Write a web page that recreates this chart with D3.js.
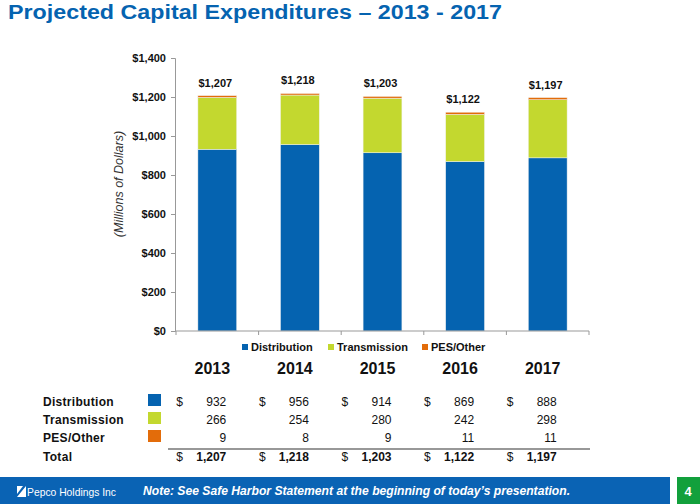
<!DOCTYPE html>
<html><head><meta charset="utf-8">
<script src="https://cdn.jsdelivr.net/npm/d3@7"></script>
<style>body{margin:0;background:#fff}svg{display:block;font-family:"Liberation Sans",Arial,sans-serif}</style>
</head><body><svg id="c" width="700" height="504"></svg>
<script>
const years = ["2013","2014","2015","2016","2017"];
const seriesNames = ["Distribution","Transmission","PES/Other"];
const distribution = [932,956,914,869,888];
const transmission = [266,254,280,242,298];
const pesOther = [9,8,9,11,11];
const totals = [1207,1218,1203,1122,1197];
const yTicks = [0,200,400,600,800,1000,1200,1400];
const colors = ["#0563b0","#c3d82f","#e36c0a"];

const svg = d3.select("#c");
const blue = "#0563b0";

// title
svg.append("text").attr("x",8).attr("y",19).attr("fill",blue)
  .attr("font-weight","bold").attr("font-size",20).attr("textLength",494).attr("lengthAdjust","spacingAndGlyphs")
  .text("Projected Capital Expenditures \u2013 2013 - 2017");

const x = d3.scaleBand().domain(years).range([176,589]).paddingInner(0.53).paddingOuter(0.265);
const y = d3.scaleLinear().domain([0,1400]).range([331,58]);

const data = years.map((yr,i)=>({year:yr,Distribution:distribution[i],Transmission:transmission[i],"PES/Other":pesOther[i]}));
const stack = d3.stack().keys(seriesNames)(data);

const g = svg.append("g");
stack.forEach((s,si)=>{
  g.selectAll(null).data(s).enter().append("rect")
   .attr("x",d=>x(d.data.year)).attr("width",x.bandwidth())
   .attr("y",d=>y(d[1])).attr("height",d=>Math.max(0,y(d[0])-y(d[1])))
   .attr("fill",colors[si]).attr("stroke","#f2f2f2").attr("stroke-width",0.5);
});

// axes
const yAxis = svg.append("g").attr("transform","translate(175,0)")
  .call(d3.axisLeft(y).tickValues(yTicks).tickSize(4).tickFormat(d=>"$"+d3.format(",")(d)));
yAxis.select(".domain").attr("stroke","#999");
yAxis.selectAll(".tick line").attr("stroke","#999");
yAxis.selectAll("text").attr("font-size",11).attr("font-weight","bold").attr("fill","#111").attr("font-family","Liberation Sans, Arial").attr("dx",-2);

const bounds = [176, ...years.slice(1).map(yv=>x(yv)-x.step()*x.paddingInner()/2), 589];
svg.append("line").attr("x1",175).attr("x2",589).attr("y1",331).attr("y2",331).attr("stroke","#999");
svg.selectAll(null).data(bounds).enter().append("line")
  .attr("x1",d=>d).attr("x2",d=>d).attr("y1",331).attr("y2",335).attr("stroke","#999");

svg.append("text").attr("transform","translate(123,184) rotate(-90)").attr("text-anchor","middle")
  .attr("font-style","italic").attr("font-size",12.5).attr("fill","#333").text("(Millions of Dollars)");

// value labels
svg.selectAll(null).data(totals).enter().append("text")
  .attr("x",(d,i)=>x(years[i])+x.bandwidth()/2-2).attr("y",d=>y(d)-9)
  .attr("text-anchor","middle").attr("font-size",11).attr("font-weight","bold").attr("fill","#111")
  .text(d=>"$"+d3.format(",")(d));

// legend
const legX = [242,328,422];
seriesNames.forEach((n,i)=>{
  svg.append("rect").attr("x",legX[i]).attr("y",344).attr("width",6).attr("height",6).attr("fill",colors[i]);
  svg.append("text").attr("x",legX[i]+9).attr("y",351).attr("font-size",11).attr("font-weight","bold").attr("fill","#111").text(n);
});

// year labels
svg.selectAll(null).data(years).enter().append("text")
  .attr("x",d=>x(d)+x.bandwidth()/2-5).attr("y",374).attr("text-anchor","middle")
  .attr("font-size",16).attr("font-weight","bold").attr("fill","#111").text(d=>d);

// table
const rows = [
  {name:"Distribution", vals:distribution, color:colors[0], dollar:true, bold:false},
  {name:"Transmission", vals:transmission, color:colors[1], dollar:false, bold:false},
  {name:"PES/Other", vals:pesOther, color:colors[2], dollar:false, bold:false},
  {name:"Total", vals:totals, color:null, dollar:true, bold:true}
];
const rowY = [406,424,442,461];
rows.forEach((r,ri)=>{
  svg.append("text").attr("x",43).attr("y",rowY[ri]).attr("font-size",12).attr("font-weight","bold").attr("fill","#111")
    .attr("letter-spacing",0.3).text(r.name);
  if(r.color) svg.append("rect").attr("x",148).attr("y",rowY[ri]-12).attr("width",13).attr("height",12).attr("fill",r.color);
  r.vals.forEach((v,i)=>{
    const cx = x(years[i]) + x.bandwidth()/2;
    if(r.dollar) svg.append("text").attr("x",cx-41).attr("y",rowY[ri]).attr("font-size",12).attr("fill","#111").text("$");
    svg.append("text").attr("x",cx+9).attr("y",rowY[ri]).attr("text-anchor","end").attr("font-size",12)
      .attr("font-weight",r.bold?"bold":"normal").attr("fill","#111").text(d3.format(",")(v));
  });
});
svg.append("line").attr("x1",168).attr("x2",590).attr("y1",449).attr("y2",449).attr("stroke","#333").attr("stroke-width",1.2);

// footer
svg.append("rect").attr("x",0).attr("y",477).attr("width",670).attr("height",27).attr("fill","#0a63b4");
svg.append("rect").attr("x",677).attr("y",477).attr("width",23).attr("height",27).attr("fill","#12a03c");
svg.append("text").attr("x",688).attr("y",496).attr("text-anchor","middle").attr("font-size",13).attr("font-weight","bold").attr("fill","#fff").text("4");
svg.append("path").attr("d","M17,497 L26,486 L26,497 Z M17,486 L23,486 L17,494 Z").attr("fill","#fff");
svg.append("text").attr("x",27).attr("y",496).attr("font-size",10.5).attr("fill","#fff").attr("textLength",89).attr("lengthAdjust","spacingAndGlyphs").text("Pepco Holdings Inc");
svg.append("text").attr("x",143).attr("y",495).attr("font-size",12).attr("font-weight","bold").attr("font-style","italic").attr("fill","#fff")
  .attr("textLength",427).attr("lengthAdjust","spacingAndGlyphs")
  .text("Note:  See Safe Harbor Statement at the beginning of today\u2019s presentation.");
</script></body></html>
